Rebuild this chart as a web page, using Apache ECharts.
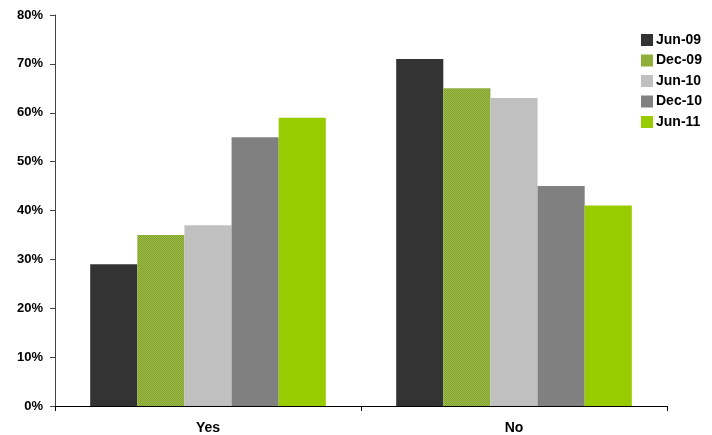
<!DOCTYPE html>
<html>
<head>
<meta charset="utf-8">
<script src="https://cdn.jsdelivr.net/npm/echarts@6/dist/echarts.min.js"></script>
<style>html,body{margin:0;padding:0;background:#fff}#c{width:712px;height:435px}</style>
</head>
<body>
<div id="c"></div>
<script>
var categories = ['Yes', 'No'];
var seriesNames = ['Jun-09', 'Dec-09', 'Jun-10', 'Dec-10', 'Jun-11'];
var jun09 = [29, 71];
var dec09 = [35, 65];
var jun10 = [37, 63];
var dec10 = [55, 45];
var jun11 = [59, 41];
var yTicks = [0, 10, 20, 30, 40, 50, 60, 70, 80];

var pc = document.createElement('canvas');
pc.width = 2; pc.height = 2;
var g = pc.getContext('2d');
g.fillStyle = '#9cbf3a'; g.fillRect(0,0,2,2);
g.fillStyle = '#829e3c'; g.fillRect(0,0,1,1); g.fillRect(1,1,1,1);
var pattern = {image: pc, repeat: 'repeat'};

var colors = ['#333333', pattern, '#c0c0c0', '#808080', '#99cc00'];
var data = [jun09, dec09, jun10, dec10, jun11];
var font = 'Liberation Sans, Arial, sans-serif';

var chart = echarts.init(document.getElementById('c'));
chart.setOption({
  animation: false,
  grid: {left: 55, right: 45, top: 15, bottom: 29, containLabel: false},
  legend: {
    orient: 'vertical', left: 636, top: 28, itemWidth: 12, itemHeight: 12, itemGap: 6.5,
    icon: 'rect',
    textStyle: {fontFamily: font, fontWeight: 'bold', fontSize: 14, lineHeight: 14, color: '#000', padding: [0,0,0,-2]},
    data: seriesNames.map(function(n, i){ return {name: n, itemStyle: {color: i === 1 ? '#8fae3a' : colors[i]}}; })
  },
  xAxis: {
    type: 'category', data: categories,
    axisLine: {lineStyle: {color: '#000', width: 1}},
    axisTick: {show: true, inside: false, length: 5, lineStyle: {color: '#000'}},
    axisLabel: {fontFamily: font, fontWeight: 'bold', fontSize: 14, color: '#000', margin: 15}
  },
  yAxis: {
    type: 'value', min: 0, max: 80, interval: 10,
    axisLine: {show: true, lineStyle: {color: '#444', width: 1}},
    axisTick: {show: true, length: 5, lineStyle: {color: '#444'}},
    splitLine: {show: false},
    axisLabel: {fontFamily: font, fontWeight: 'bold', fontSize: 13, color: '#000', margin: 12,
      formatter: function(v){ return yTicks.indexOf(v) >= 0 ? v + '%' : ''; }}
  },
  series: seriesNames.map(function(n, i){
    return {name: n, type: 'bar', data: data[i], barGap: '0%', barCategoryGap: '23%',
      itemStyle: {color: colors[i]}};
  })
});
</script>
</body>
</html>
